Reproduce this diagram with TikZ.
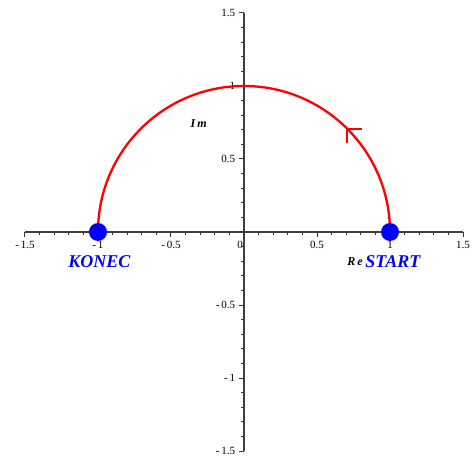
\documentclass[tikz,border=0pt]{standalone}
\usepackage{fontspec}
\setmainfont{Liberation Serif}
\usetikzlibrary{calc}
\begin{document}
\begin{tikzpicture}[x=146pt,y=146pt,
  axisline/.style={draw=black!75,line width=1.1pt},
  tickline/.style={draw=black!80,line width=1pt},
  ticklab/.style={font=\fontsize{11}{13}\selectfont,inner sep=0pt},
  curve/.style={draw=red,line width=2.3pt},
  dot/.style={circle,fill=blue,minimum size=18pt,inner sep=0pt},
  bluelab/.style={font=\fontsize{18}{20}\selectfont\bfseries\itshape,text=blue,inner sep=0pt},
  axlab/.style={font=\fontsize{12}{14}\selectfont\bfseries\itshape,inner sep=0pt}]
\useasboundingbox (-1.6712,-1.5616) rectangle (1.5753,1.5890);
% axes
\coordinate (xl) at (-1.5,0); \coordinate (xr) at (1.5,0);
\coordinate (yb) at (0,-1.5); \coordinate (yt) at (0,1.5);
\draw[axisline] (xl) -- (xr);
\draw[axisline] (yb) -- (yt);
% ticks
\foreach \i in {-15,...,15}{
  \pgfmathsetmacro{\v}{\i/10}
  \pgfmathtruncatemacro{\m}{mod(abs(\i),5)}
  \ifnum\m=0
    \draw[tickline] (\v,0) -- ++(0,-5.5pt);
    \draw[tickline] (0,\v) -- ++(-5.5pt,0);
  \else
    \draw[tickline] (\v,0) -- ++(0,-3.5pt);
    \draw[tickline] (0,\v) -- ++(-3.5pt,0);
  \fi
}
% x tick labels
\foreach \v/\t/\n in {-1.5/-\,1.5/a,-1/-\,1/b,-0.5/-\,0.5/c,0.5/0.5/d,1/1/e,1.5/1.5/f}{
  \node[ticklab] (xt\n) at (\v,-0.09) {\t};
}
\node[ticklab] (zero) at (-0.027,-0.09) {0};
% y tick labels
\foreach \v/\t/\n in {-1.5/-\,1.5/a,-1/-\,1/b,-0.5/-\,0.5/c,0.5/0.5/d,1/1/e,1.5/1.5/f}{
  \node[ticklab,anchor=east] (yt\n) at (-0.06,\v) {\t};
}
% curve
\coordinate (s) at (1,0);
\coordinate (k) at (-1,0);
\draw[curve] (s) arc (0:180:1);
\coordinate (tip) at (45:1);
\draw[curve] ($(tip)+(0.1,0)$) -- (tip) -- ++(0,-0.1);
\node[dot] (start) at (s) {};
\node[dot] (konec) at (k) {};
% labels
\node[bluelab] (konecl) at (-0.99,-0.2) {KONEC};
\node[bluelab] (startl) at (1.02,-0.2) {START};
\node[axlab] (re) at (0.76,-0.205) {R\,e};
\node[axlab] (im) at (-0.31,0.74) {I\,m};
\end{tikzpicture}
\end{document}
